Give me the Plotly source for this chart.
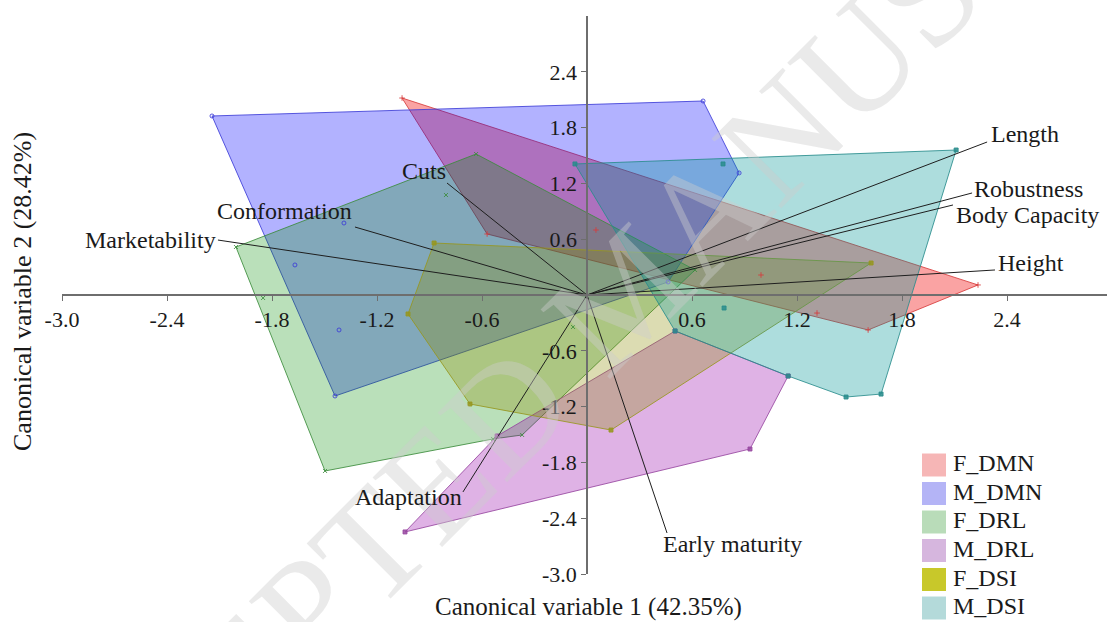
import plotly.graph_objects as go

# ---------------- canonical scores (CV1, CV2) per group ----------------
groups = ["F_DMN", "M_DMN", "F_DRL", "M_DRL", "F_DSI", "M_DSI"]

# outer observations (polygon vertices, in order)
f_dmn_hull_x = [-1.057, 2.234, 1.606, -0.571]
f_dmn_hull_y = [2.118, 0.108, -0.376, 0.656]
m_dmn_hull_x = [-2.143, 0.663, 0.869, 0.463, -1.440]
m_dmn_hull_y = [1.925, 2.086, 1.312, 0.140, -1.086]
f_drl_hull_x = [-0.634, 0.617, -0.371, -0.537, -1.497, -2.006]
f_drl_hull_y = [1.516, 0.269, -1.505, -1.548, -1.892, 0.516]
m_drl_hull_x = [-1.040, 0.931, 1.149, 0.503, -0.514]
m_drl_hull_y = [-2.548, -1.656, -0.871, -0.387, -1.516]
f_dsi_hull_x = [-0.874, 1.623, 0.137, -0.669, -1.023]
f_dsi_hull_y = [0.559, 0.344, -1.452, -1.172, -0.204]
m_dsi_hull_x = [-0.069, 2.109, 1.680, 1.480, 1.149, 0.503]
m_dsi_hull_y = [1.409, 1.559, -1.065, -1.097, -0.871, -0.387]

# inner observations
f_dmn_in_x = [0.051, 0.994, 1.314]
f_dmn_in_y = [0.699, 0.215, -0.194]
m_dmn_in_x = [-1.389, -1.669, -1.417]
m_dmn_in_y = [0.774, 0.323, -0.376]
f_drl_in_x = [-0.806, -1.851, -0.080]
f_drl_in_y = [1.075, -0.032, -0.344]
m_drl_in_x = []
m_drl_in_y = []
f_dsi_in_x = []
f_dsi_in_y = []
m_dsi_in_x = [0.777, 0.783]
m_dsi_in_y = [1.409, -0.140]

# ---------------- trait vectors ----------------
traits = ["Length", "Robustness", "Body Capacity", "Height", "Cuts",
          "Conformation", "Marketability", "Adaptation", "Early maturity"]
load_x = [2.286, 2.200, 2.091, 2.331, -0.800, -1.326, -2.109, -0.709, 0.457]
load_y = [1.645, 1.097, 0.968, 0.269, 1.204, 0.731, 0.591, -2.118, -2.559]

# ---------------- axis ticks ----------------
x_ticks = [-3.0, -2.4, -1.8, -1.2, -0.6, 0.6, 1.2, 1.8, 2.4]
y_ticks = [2.4, 1.8, 1.2, 0.6, -0.6, -1.2, -1.8, -2.4, -3.0]

x_title = "Canonical variable 1 (42.35%)"
y_title = "Canonical variable 2 (28.42%)"

# ---------------- styling ----------------
SERIF = "Liberation Serif, Times New Roman, serif"
W, H = 1107, 622
ML, MR, MT, MB = 62, 0, 16, 48
X_RANGE = [-3.0, 2.971]
Y_RANGE = [-3.0, 3.0]

fills = {
    "F_DMN": "rgba(240,0,0,0.36)",
    "M_DMN": "rgba(0,0,255,0.30)",
    "F_DRL": "rgba(0,140,0,0.27)",
    "M_DRL": "rgba(150,0,170,0.30)",
    "F_DSI": "rgba(140,140,0,0.30)",
    "M_DSI": "rgba(0,150,150,0.32)",
}
edges = {
    "F_DMN": "rgba(215,60,60,0.85)",
    "M_DMN": "rgba(60,60,215,0.85)",
    "F_DRL": "rgba(60,140,60,0.85)",
    "M_DRL": "rgba(150,70,160,0.85)",
    "F_DSI": "rgba(150,150,30,0.85)",
    "M_DSI": "rgba(40,140,140,0.85)",
}
swatches = {
    "F_DMN": "#f6b6b6",
    "M_DMN": "#b4b4f6",
    "F_DRL": "#b9dcb9",
    "M_DRL": "#d6b6de",
    "F_DSI": "#c8c82a",
    "M_DSI": "#b4dada",
}
symbols = {
    "F_DMN": "cross-thin-open",
    "M_DMN": "circle-open",
    "F_DRL": "x-thin-open",
    "M_DRL": "square",
    "F_DSI": "square",
    "M_DSI": "square",
}

hulls = {
    "F_DMN": (f_dmn_hull_x, f_dmn_hull_y),
    "M_DMN": (m_dmn_hull_x, m_dmn_hull_y),
    "F_DRL": (f_drl_hull_x, f_drl_hull_y),
    "M_DRL": (m_drl_hull_x, m_drl_hull_y),
    "F_DSI": (f_dsi_hull_x, f_dsi_hull_y),
    "M_DSI": (m_dsi_hull_x, m_dsi_hull_y),
}
inner = {
    "F_DMN": (f_dmn_in_x, f_dmn_in_y),
    "M_DMN": (m_dmn_in_x, m_dmn_in_y),
    "F_DRL": (f_drl_in_x, f_drl_in_y),
    "M_DRL": (m_drl_in_x, m_drl_in_y),
    "F_DSI": (f_dsi_in_x, f_dsi_in_y),
    "M_DSI": (m_dsi_in_x, m_dsi_in_y),
}

# label anchor and pixel offsets from the vector tip
label_pos = {
    "Length": ("left", 3, 8),
    "Robustness": ("left", 1, 4),
    "Body Capacity": ("left", 2, -10),
    "Height": ("left", 2, 7),
    "Cuts": ("right", 0, 12),
    "Conformation": ("right", -2, 16),
    "Marketability": ("right", -1, 0),
    "Adaptation": ("right", 0, -5),
    "Early maturity": ("left", -5, -11),
}

fig = go.Figure()

for g in groups:
    hx, hy = hulls[g]
    fig.add_trace(go.Scatter(
        x=hx + hx[:1], y=hy + hy[:1], mode="lines", fill="toself",
        fillcolor=fills[g], line=dict(color=edges[g], width=1),
        name=g, showlegend=False, hoverinfo="skip"))

for g in groups:
    hx, hy = hulls[g]
    ix, iy = inner[g]
    fig.add_trace(go.Scatter(
        x=hx + ix, y=hy + iy, mode="markers", showlegend=False,
        marker=dict(symbol=symbols[g], size=4, color=edges[g],
                    line=dict(color=edges[g], width=1)),
        hoverinfo="skip"))

# trait vectors from the origin
vx, vy = [], []
for lx, ly in zip(load_x, load_y):
    vx += [0, lx, None]
    vy += [0, ly, None]
fig.add_trace(go.Scatter(x=vx, y=vy, mode="lines", showlegend=False,
                         line=dict(color="#1e1e1e", width=1), hoverinfo="skip"))


def px_to_paper(px, py):
    pw = W - ML - MR
    ph = H - MT - MB
    return (px - ML) / pw, (H - MB - py) / ph


annotations = []

# faint diagonal watermark
wx, wy = px_to_paper(625, 292)
annotations.append(dict(
    x=wx, y=wy, xref="paper", yref="paper", text="ACCEPTED MANUSCRIPT",
    showarrow=False, textangle=-45,
    font=dict(family=SERIF, size=150, color="rgba(205,205,205,0.42)"),
    xanchor="center", yanchor="middle"))

for t, lx, ly in zip(traits, load_x, load_y):
    anc, dx, dy = label_pos[t]
    annotations.append(dict(
        x=lx, y=ly, xref="x", yref="y", text=t, showarrow=False,
        xanchor=anc, yanchor="middle", xshift=dx, yshift=dy, borderpad=0,
        font=dict(family=SERIF, size=24, color="#1a1a1a")))

# axis titles
tx, ty = px_to_paper(588, 607)
annotations.append(dict(x=tx, y=ty, xref="paper", yref="paper", text=x_title,
                        showarrow=False, xanchor="center", yanchor="middle",
                        font=dict(family=SERIF, size=25, color="#1a1a1a")))
tx, ty = px_to_paper(22, 292)
annotations.append(dict(x=tx, y=ty, xref="paper", yref="paper", text=y_title,
                        showarrow=False, textangle=-90, xanchor="center",
                        yanchor="middle",
                        font=dict(family=SERIF, size=26, color="#1a1a1a")))

# legend block
shapes = []
row_y = [465, 493.5, 522, 550.5, 579.5, 608]
for g, cy in zip(groups, row_y):
    x0, y0 = px_to_paper(922, cy + 11.5)
    x1, y1 = px_to_paper(946, cy - 11.5)
    shapes.append(dict(type="rect", xref="paper", yref="paper",
                       x0=x0, y0=y0, x1=x1, y1=y1,
                       fillcolor=swatches[g], line=dict(width=0), layer="above"))
    lx, ly = px_to_paper(951, cy - 2)
    annotations.append(dict(x=lx, y=ly, xref="paper", yref="paper", text=g,
                            showarrow=False, xanchor="left", yanchor="middle",
                            font=dict(family=SERIF, size=24, color="#1a1a1a")))

axis_common = dict(
    showgrid=False, zeroline=False, showline=True, linecolor="#6e6e6e",
    linewidth=1.5, ticks="outside", ticklen=5, tickwidth=1, tickcolor="#6e6e6e",
    tickfont=dict(family=SERIF, size=22, color="#1a1a1a"), anchor="free",
    fixedrange=True)

origin_x = (0 - X_RANGE[0]) / (X_RANGE[1] - X_RANGE[0])
origin_y = (0 - Y_RANGE[0]) / (Y_RANGE[1] - Y_RANGE[0])

fig.update_layout(
    width=W, height=H, autosize=False,
    margin=dict(l=ML, r=MR, t=MT, b=MB),
    paper_bgcolor="white", plot_bgcolor="white",
    showlegend=False,
    xaxis=dict(range=X_RANGE, tickvals=x_ticks,
               ticktext=[f"{v:.1f}" for v in x_ticks],
               position=origin_y, **axis_common),
    yaxis=dict(range=Y_RANGE, tickvals=y_ticks,
               ticktext=[f"{v:.1f}" for v in y_ticks],
               position=origin_x, **axis_common),
    annotations=annotations,
    shapes=shapes,
)

fig.write_html("out.html")
